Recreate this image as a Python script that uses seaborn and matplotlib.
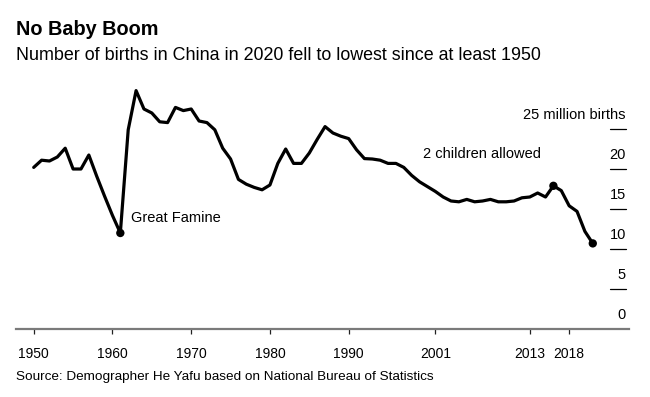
import matplotlib
matplotlib.use("Agg")
import matplotlib.pyplot as plt
import matplotlib.transforms as mtransforms
import seaborn as sns
import pandas as pd

# ---------------- data ----------------
years = list(range(1950, 2022))
births = [
    20.2, 21.1, 21.0, 21.5, 22.6, 20.0, 20.0, 21.75, 19.1, 16.6, 14.2, 12.0,   # 1950-1961
    24.9, 29.8, 27.5, 27.0, 25.9, 25.8, 27.7, 27.3, 27.5, 26.0, 25.8, 24.9,    # 1962-1973
    22.6, 21.25, 18.7, 18.1, 17.7, 17.4, 18.0, 20.7, 22.5, 20.7, 20.7, 22.0,   # 1974-1985
    23.7, 25.3, 24.5, 24.1, 23.8, 22.4, 21.3, 21.25, 21.1, 20.7, 20.7, 20.2,   # 1986-1997
    19.2, 18.4, 17.8, 17.2, 16.5, 16.0, 15.9, 16.2, 15.9, 16.0, 16.2, 15.9,    # 1998-2009
    15.9, 16.0, 16.4, 16.5, 17.0, 16.5, 17.9, 17.3, 15.4, 14.7, 12.2, 10.7,    # 2010-2021
]
marked_years = [1961, 2016, 2021]
x_tick_years = [1950, 1960, 1970, 1980, 1990, 2001, 2013, 2018]
x_tick_labels = ["1950", "1960", "1970", "1980", "1990", "2001", "2013", "2018"]
y_tick_values = [0, 5, 10, 15, 20, 25]
y_tick_labels = ["0", "5", "10", "15", "20", "25 million births"]

title = "No Baby Boom"
subtitle = "Number of births in China in 2020 fell to lowest since at least 1950"
source = "Source: Demographer He Yafu based on National Bureau of Statistics"

# ---------------- style ----------------
sns.set_theme(style="white")
plt.rcParams["font.family"] = ["Liberation Sans", "DejaVu Sans"]

W, H = 650, 397
fig = plt.figure(figsize=(W / 100, H / 100), dpi=100)
left_px, right_px, bottom_px, top_px = 16, 629, 329, 81
ax = fig.add_axes([left_px / W, 1 - bottom_px / H,
                   (right_px - left_px) / W, (bottom_px - top_px) / H])

df = pd.DataFrame({"year": years, "births": births})
sns.lineplot(data=df, x="year", y="births", ax=ax, color="black",
             linewidth=2.3, solid_joinstyle="round", solid_capstyle="round")
sns.scatterplot(data=df[df["year"].isin(marked_years)], x="year", y="births",
                ax=ax, color="black", s=36, edgecolor="none", zorder=4)

ax.set_xlim(1947.75, 2025.6)
ax.set_ylim(0, 31)
ax.set_xlabel("")
ax.set_ylabel("")
ax.grid(False)
for s in ["top", "left", "right"]:
    ax.spines[s].set_visible(False)
ax.spines["bottom"].set_color("#7a7a7a")
ax.spines["bottom"].set_linewidth(1.6)

ax.set_xticks(x_tick_years)
ax.set_xticklabels(x_tick_labels)
ax.tick_params(axis="x", bottom=True, length=3.6, width=0.9, color="#222222",
               pad=9, labelsize=10, labelcolor="black")
ax.set_yticks([])

# right-side value labels with short underlines
blend = mtransforms.blended_transform_factory(ax.transAxes, ax.transData)
for v, lab in zip(y_tick_values, y_tick_labels):
    if v > 0:
        ax.plot([0.969, 0.995], [v, v], transform=blend, color="black",
                linewidth=0.9, clip_on=False)
    ax.annotate(lab, xy=(0.995, v), xycoords=blend, xytext=(0, 10),
                textcoords="offset points", ha="right", va="center",
                fontsize=10.5, color="black")

# annotations
row61 = df[df["year"] == 1961].iloc[0]
ax.annotate("Great Famine", xy=(row61["year"], row61["births"]),
            xytext=(8, 11), textcoords="offset points", ha="left",
            va="center", fontsize=10.5, color="black")
row16 = df[df["year"] == 2016].iloc[0]
ax.annotate("2 children allowed", xy=(row16["year"], row16["births"]),
            xytext=(-9, 23), textcoords="offset points", ha="right",
            va="center", fontsize=10.5, color="black")

# titles and source
fig.text(16 / W, 1 - 35 / H, title, fontsize=14.3, fontweight="bold",
         va="baseline", ha="left", color="black")
fig.text(16 / W, 1 - 60 / H, subtitle, fontsize=12.9,
         va="baseline", ha="left", color="black")
fig.text(16 / W, 1 - 377 / H, source, fontsize=9.7,
         va="center", ha="left", color="black")

fig.savefig("out.png", dpi=100, facecolor="white")
